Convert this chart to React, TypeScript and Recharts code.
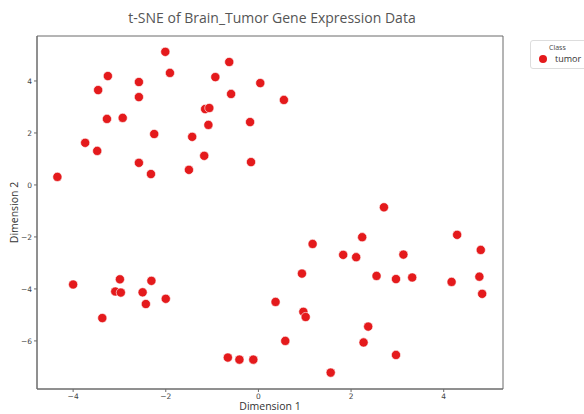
import {
  Label,
  ReferenceArea,
  Scatter,
  ScatterChart,
  XAxis,
  YAxis,
} from "recharts";

// t-SNE coordinates
const dim1 = [
  -2.01, -0.63, -1.91, -3.25, -2.58, -0.93, 0.04, -3.46, -2.58, -0.59, 0.55, -1.15, -1.06, -3.27,
  -2.93, -1.08, -0.18, -2.25, -1.43, -3.74, -3.48, -1.17, -2.58, -0.16, -2.32, -1.5, -4.34,
  -4.0, -2.99, -3.09, -2.97, -2.5, -2.31, -2.43, -2.0, -3.37,
  -0.66, -0.41, -0.11, 0.37, 0.58,
  2.71, 4.29, 1.17, 2.24, 1.83, 2.11, 3.13, 4.8, 0.94, 2.55, 2.97, 3.32, 4.17, 4.77, 4.83, 0.97,
  1.02, 2.37, 2.27, 2.97, 1.56,
];
const dim2 = [
  5.12, 4.73, 4.31, 4.19, 3.96, 4.15, 3.92, 3.65, 3.38, 3.5, 3.27, 2.92, 2.96, 2.54,
  2.58, 2.31, 2.42, 1.96, 1.85, 1.62, 1.31, 1.12, 0.85, 0.88, 0.42, 0.58, 0.31,
  -3.83, -3.63, -4.1, -4.14, -4.13, -3.69, -4.58, -4.38, -5.12,
  -6.64, -6.72, -6.72, -4.5, -6.0,
  -0.86, -1.92, -2.27, -2.01, -2.69, -2.78, -2.68, -2.5, -3.41, -3.5, -3.62, -3.56, -3.73, -3.53,
  -4.19, -4.88, -5.08, -5.45, -6.06, -6.54, -7.22,
];
const xTicks = [-4, -2, 0, 2, 4];
const yTicks = [-6, -4, -2, 0, 2, 4];
const xDomain = [-4.78, 5.28];
const yDomain = [-7.85, 5.73];
const className = "tumor";

const RED = "#e41a1c";
const FRAME = "#6b6b6b";

const points = dim1.map((x, i) => ({ x, y: dim2[i] }));

function ClassLegend() {
  return (
    <div
      style={{
        position: "absolute",
        left: 530,
        top: 40,
        border: "1px solid #ddd",
        borderRadius: 3,
        background: "#fff",
        padding: "2px 6px 3px 8px",
        fontFamily: "'Open Sans', sans-serif",
        color: "#333",
        width: 60,
      }}
    >
      <div style={{ fontSize: 7, textAlign: "left", paddingLeft: 10, color: "#444", lineHeight: "10px" }}>Class</div>
      <div style={{ display: "flex", alignItems: "center", fontSize: 9, lineHeight: "12px" }}>
        <span
          style={{
            display: "inline-block",
            width: 8,
            height: 8,
            borderRadius: 4,
            background: RED,
            marginRight: 8,
          }}
        />
        {className}
      </div>
    </div>
  );
}

export default function App() {
  return (
    <div style={{ position: "absolute", left: 0, top: 0, width: 584, height: 414, background: "#fff", overflow: "hidden" }}>
      <div
        style={{
          position: "absolute",
          left: 0,
          width: 544,
          top: 8,
          textAlign: "center",
          fontFamily: "'Open Sans', sans-serif",
          fontSize: 14,
          color: "#555",
        }}
      >
        t-SNE of Brain_Tumor Gene Expression Data
      </div>
      <ScatterChart width={584} height={414} margin={{ top: 36, right: 81, left: 0, bottom: 0 }}>
        <XAxis
          type="number"
          dataKey="x"
          domain={xDomain}
          ticks={xTicks}
          height={25}
          tickSize={3}
          stroke={FRAME}
          tick={{ fill: "#444", fontSize: 7.5, fontFamily: "DejaVu Sans" }}
          tickFormatter={(v) => String(v).replace("-", "\u2212")}
          allowDataOverflow
        >
          <Label
            value="Dimension 1"
            position="insideBottom"
            offset={4}
            style={{ fontSize: 10.5, fill: "#333", fontFamily: "'Open Sans', sans-serif" }}
          />
        </XAxis>
        <YAxis
          type="number"
          dataKey="y"
          domain={yDomain}
          ticks={yTicks}
          width={37}
          tickSize={3}
          stroke={FRAME}
          tick={{ fill: "#444", fontSize: 7.5, fontFamily: "DejaVu Sans" }}
          tickFormatter={(v) => String(v).replace("-", "\u2212")}
          allowDataOverflow
        >
          <Label
            value="Dimension 2"
            angle={-90}
            position="insideLeft"
            offset={14}
            style={{ fontSize: 10.5, fill: "#333", textAnchor: "middle", fontFamily: "'Open Sans', sans-serif" }}
          />
        </YAxis>
        <ReferenceArea
          x1={xDomain[0]}
          x2={xDomain[1]}
          y1={yDomain[0]}
          y2={yDomain[1]}
          fill="none"
          fillOpacity={0}
          stroke={FRAME}
          strokeWidth={1}
        />
        <Scatter
          name={className}
          data={points}
          isAnimationActive={false}
          shape={(p: any) => <circle cx={p.cx} cy={p.cy} r={4.6} fill={RED} stroke="#fff" strokeWidth={0.6} />}
        />
      </ScatterChart>
      <ClassLegend />
    </div>
  );
}
